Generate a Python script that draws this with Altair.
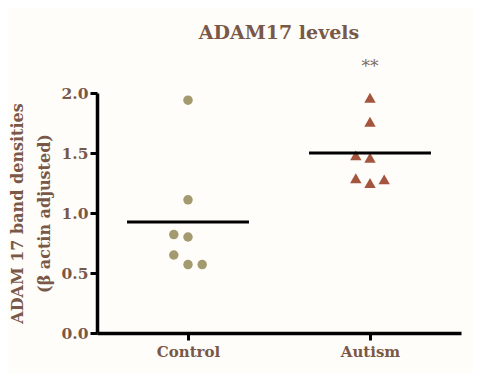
import altair as alt
import pandas as pd

groups = ["Control", "Autism"]
group_pos = [0.5, 1.5]
control_values = [1.94, 1.11, 0.82, 0.80, 0.65, 0.57, 0.57]
control_cols = [0, 0, -1, 0, -1, 0, 1]
autism_values = [1.96, 1.76, 1.48, 1.46, 1.29, 1.25, 1.28]
autism_cols = [0, 0, -1, 0, -1, 0, 1]
group_means = [0.925, 1.50]
significance = ["", "**"]
sig_y = 2.22

JIT = 0.078
HALF = 0.335
TXT = "#7a5848"
FONT = "DejaVu Serif"

ctrl = pd.DataFrame({"x": [group_pos[0] + c * JIT for c in control_cols], "y": control_values})
aut = pd.DataFrame({"x": [group_pos[1] + c * JIT for c in autism_cols], "y": autism_values})
means = pd.DataFrame({"x": [p - HALF for p in group_pos], "x2": [p + HALF for p in group_pos],
                      "y": group_means})
sig = pd.DataFrame({"x": group_pos, "y": [sig_y, sig_y], "t": significance})

xscale = alt.Scale(domain=[0, 2], nice=False)
yscale = alt.Scale(domain=[0, 2], nice=False)

xaxis = alt.Axis(values=group_pos, labelExpr="datum.value < 1 ? 'Control' : 'Autism'",
                 title=None, grid=False, domainColor="black", domainWidth=3.5,
                 tickColor="black", tickWidth=3, tickSize=7, labelFont=FONT,
                 labelFontWeight="bold", labelFontSize=15, labelColor=TXT, labelPadding=4)
yaxis = alt.Axis(values=[0, 0.5, 1.0, 1.5, 2.0], format=".1f",
                 title=["ADAM 17 band densities", "(β actin adjusted)"],
                 grid=False, domainColor="black", domainWidth=3.5, tickColor="black",
                 tickWidth=3, tickSize=7, labelFont=FONT, labelFontWeight="bold",
                 labelFontSize=15.5, labelColor=TXT, labelPadding=2,
                 titleFont=FONT, titleFontWeight="bold", titleFontSize=16, titleColor=TXT,
                 titleX=-88, titleY=120, titleAngle=270, titleBaseline="top",
                 titleAlign="center", titleLineHeight=27)

base_x = alt.X("x:Q", scale=xscale, axis=xaxis)
base_y = alt.Y("y:Q", scale=yscale, axis=yaxis)

c_pts = alt.Chart(ctrl).mark_point(shape="circle", filled=True, size=90, opacity=1,
                                   color="#a39a70").encode(x=base_x, y=base_y)
a_pts = alt.Chart(aut).mark_point(shape="triangle-up", filled=True, size=130, opacity=1,
                                  color="#a5553e").encode(x="x:Q", y="y:Q")
m_lines = alt.Chart(means).mark_rule(color="black", strokeWidth=2.8).encode(
    x="x:Q", x2="x2:Q", y="y:Q")
s_text = alt.Chart(sig).mark_text(font=FONT, fontSize=17, color="#7a6a62",
                                  baseline="middle").encode(x="x:Q", y="y:Q", text="t:N")

chart = alt.layer(c_pts, a_pts, m_lines, s_text).properties(
    width=364, height=240,
    title=alt.TitleParams("ADAM17 levels", font=FONT, fontSize=19, fontWeight="bold",
                          color=TXT, anchor="middle", offset=15),
    autosize=alt.AutoSizeParams(type="none"),
    padding={"left": 89, "top": 85, "right": 12, "bottom": 40},
    background="#fefdf9",
).configure_view(stroke=None)

chart.save("out.html", embed_options={"renderer": "svg", "actions": False})
